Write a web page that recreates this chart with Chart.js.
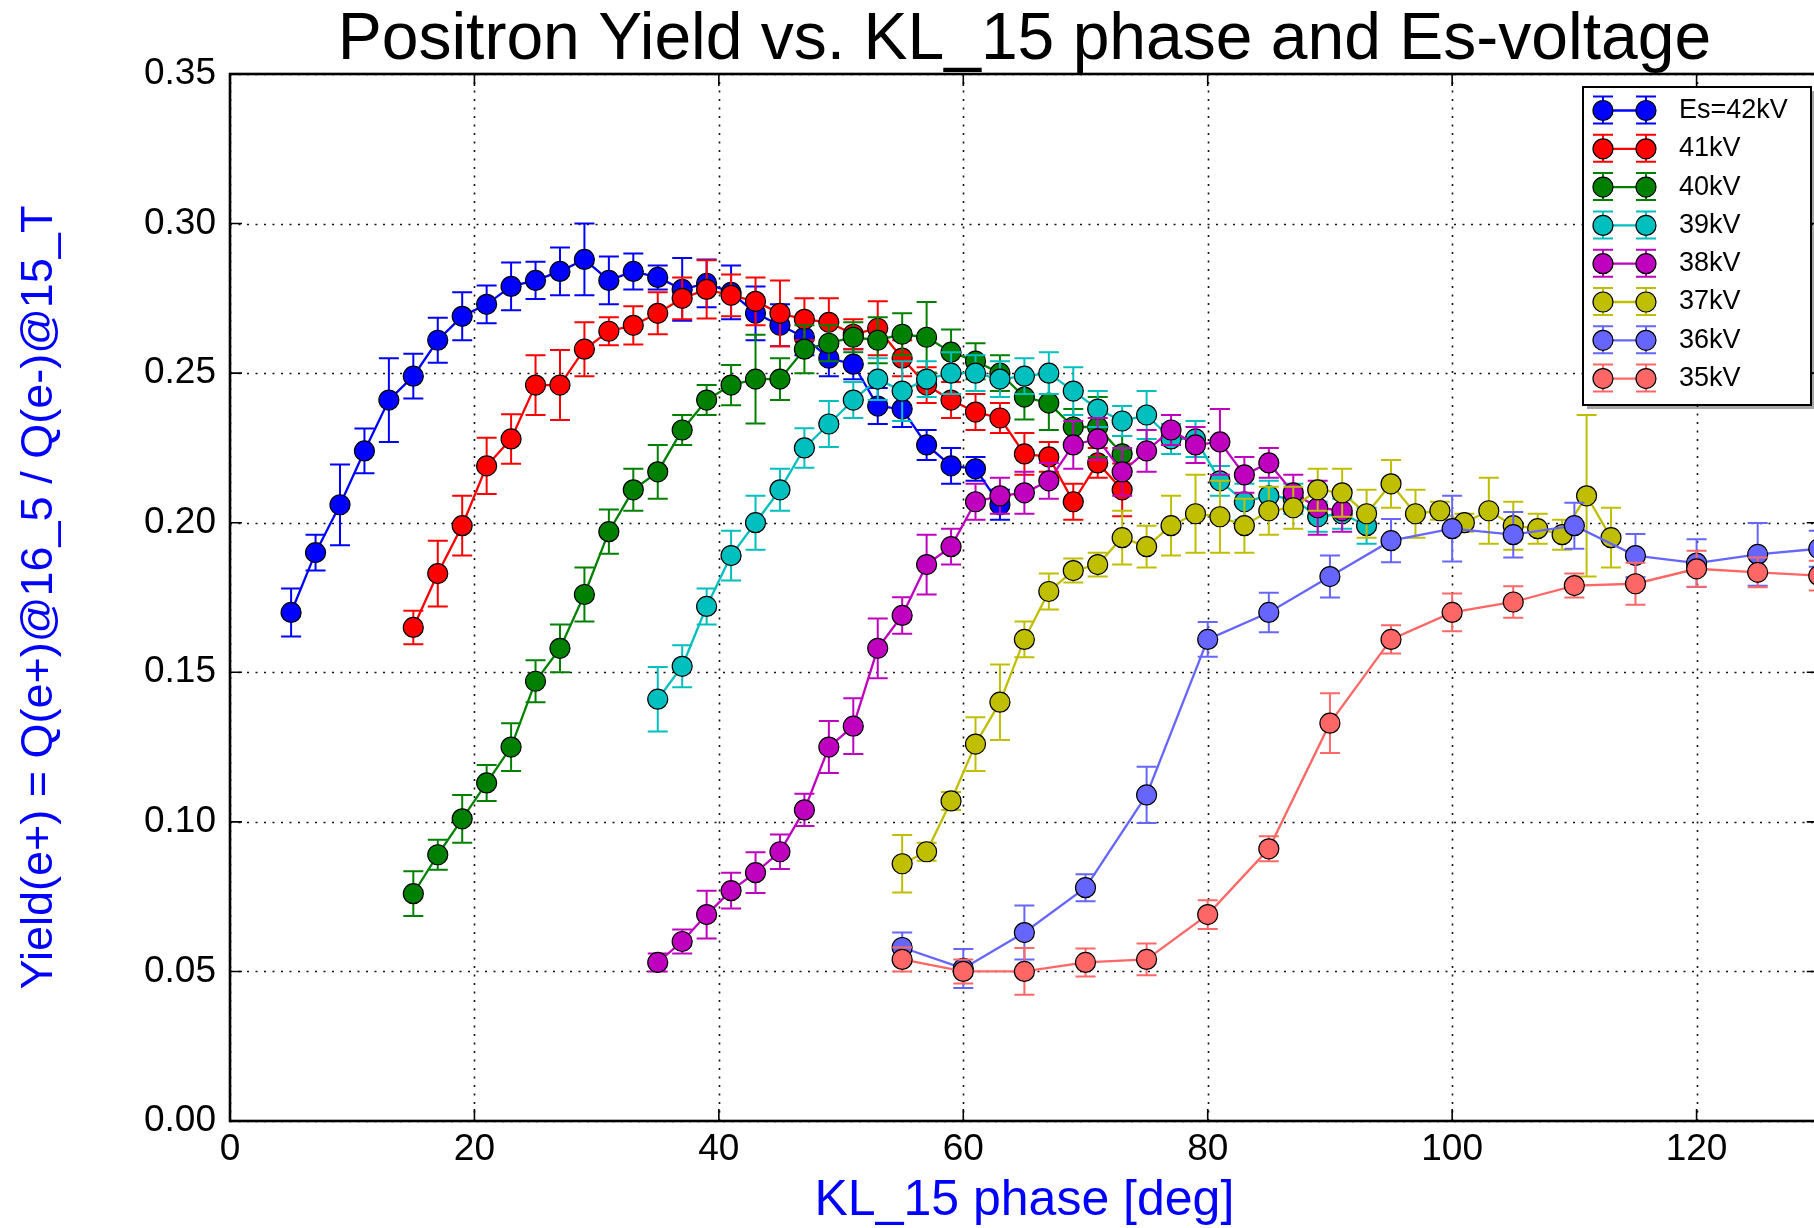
<!DOCTYPE html>
<html>
<head>
<meta charset="utf-8">
<script src="https://cdn.jsdelivr.net/npm/chart.js@4.4.1/dist/chart.umd.min.js"></script>
<style>
  html, body { margin: 0; padding: 0; background: #fff; overflow: hidden; }
  #wrap { width: 1830px; height: 1228px; }
</style>
</head>
<body>
<div id="wrap"><canvas id="chart" width="1830" height="1228"></canvas></div>
<script>
// KL_15 phase [deg] for each Es-voltage scan
var phase42 = [5,7,9,11,13,15,17,19,21,23,25,27,29,31,33,35,37,39,41,43,45,47,49,51,53,55,57,59,61,63];
var phase41 = [15,17,19,21,23,25,27,29,31,33,35,37,39,41,43,45,47,49,51,53,55,57,59,61,63,65,67,69,71,73];
var phase40 = [15,17,19,21,23,25,27,29,31,33,35,37,39,41,43,45,47,49,51,53,55,57,59,61,63,65,67,69,71,73];
var phase39 = [35,37,39,41,43,45,47,49,51,53,55,57,59,61,63,65,67,69,71,73,75,77,79,81,83,85,87,89,91,93];
var phase38 = [35,37,39,41,43,45,47,49,51,53,55,57,59,61,63,65,67,69,71,73,75,77,79,81,83,85,87,89,91];
var phase37 = [55,57,59,61,63,65,67,69,71,73,75,77,79,81,83,85,87,89,91,93,95,97,99,101,103,105,107,109,111,113];
var phase36 = [55,60,65,70,75,80,85,90,95,100,105,110,115,120,125,130];
var phase35 = [55,60,65,70,75,80,85,90,95,100,105,110,115,120,125,130];

// yield values
var yield42 = [0.170,0.190,0.206,0.224,0.241,0.249,0.261,0.269,0.273,0.279,0.281,0.284,0.288,0.281,0.284,0.282,0.278,0.280,0.277,0.270,0.266,0.262,0.255,0.253,0.239,0.238,0.226,0.219,0.218,0.206];
var yield41 = [0.165,0.183,0.199,0.219,0.228,0.246,0.246,0.258,0.264,0.266,0.270,0.275,0.278,0.276,0.274,0.270,0.268,0.267,0.263,0.265,0.255,0.246,0.241,0.237,0.235,0.223,0.222,0.207,0.220,0.211];
var yield40 = [0.076,0.089,0.101,0.113,0.125,0.147,0.158,0.176,0.197,0.211,0.217,0.231,0.241,0.246,0.248,0.248,0.258,0.260,0.262,0.261,0.263,0.262,0.257,0.254,0.250,0.242,0.240,0.232,0.232,0.223];
var yield39 = [0.141,0.152,0.172,0.189,0.200,0.211,0.225,0.233,0.241,0.248,0.244,0.248,0.250,0.250,0.248,0.249,0.250,0.244,0.238,0.234,0.236,0.228,0.228,0.214,0.207,0.209,0.208,0.202,0.203,0.199];
var yield38 = [0.053,0.060,0.069,0.077,0.083,0.090,0.104,0.125,0.132,0.158,0.169,0.186,0.192,0.207,0.209,0.210,0.214,0.226,0.228,0.217,0.224,0.231,0.226,0.227,0.216,0.220,0.210,0.205,0.204];
var yield37 = [0.086,0.090,0.107,0.126,0.140,0.161,0.177,0.184,0.186,0.195,0.192,0.199,0.203,0.202,0.199,0.204,0.205,0.211,0.210,0.203,0.213,0.203,0.204,0.200,0.204,0.199,0.198,0.196,0.209,0.195];
var yield36 = [0.058,0.051,0.063,0.078,0.109,0.161,0.170,0.182,0.194,0.198,0.196,0.199,0.189,0.1865,0.1894,0.1913];
var yield35 = [0.054,0.050,0.050,0.053,0.054,0.069,0.091,0.133,0.161,0.170,0.1735,0.179,0.1796,0.1846,0.1834,0.1823];

// half-length of the error bars
var err42 = [0.008,0.006,0.0135,0.0075,0.014,0.0075,0.0075,0.008,0.0063,0.008,0.0062,0.008,0.012,0.008,0.006,0.004,0.0105,0.008,0.009,0.009,0.007,0.006,0.006,0.005,0.006,0.006,0.005,0.006,0.004,0.005];
var err41 = [0.0056,0.011,0.010,0.0094,0.0083,0.010,0.0117,0.009,0.0047,0.0064,0.007,0.007,0.0097,0.007,0.008,0.011,0.007,0.008,0.005,0.009,0.006,0.006,0.006,0.006,0.005,0.007,0.005,0.006,0.005,0.0088];
var err40 = [0.0075,0.005,0.008,0.006,0.008,0.007,0.008,0.009,0.0074,0.007,0.009,0.005,0.005,0.0067,0.0148,0.007,0.008,0.006,0.005,0.0077,0.007,0.0118,0.0076,0.006,0.006,0.0075,0.009,0.006,0.01,0.006];
var err39 = [0.0108,0.007,0.006,0.0083,0.009,0.007,0.0066,0.0077,0.006,0.007,0.01,0.006,0.007,0.006,0.006,0.006,0.007,0.008,0.006,0.005,0.008,0.005,0.006,0.005,0.006,0.005,0.005,0.005,0.005,0.006];
var err38 = [0.003,0.004,0.008,0.006,0.0068,0.0058,0.0054,0.0087,0.0093,0.01,0.0061,0.01,0.006,0.006,0.006,0.007,0.006,0.008,0.007,0.008,0.007,0.005,0.006,0.011,0.006,0.005,0.006,0.009,0.007];
var err37 = [0.0096,0.003,0.003,0.009,0.0126,0.006,0.006,0.004,0.004,0.009,0.007,0.010,0.013,0.012,0.009,0.008,0.007,0.007,0.008,0.008,0.008,0.008,0.003,0.003,0.011,0.008,0.005,0.005,0.027,0.010];
var err36 = [0.005,0.0065,0.009,0.0045,0.0094,0.0058,0.0066,0.007,0.0072,0.011,0.0076,0.0077,0.0072,0.008,0.0105,0.006];
var err35 = [0.004,0.004,0.0078,0.0047,0.0053,0.0048,0.0042,0.010,0.0047,0.0063,0.0053,0.004,0.007,0.006,0.005,0.005];

var labels = ["Es=42kV", "41kV", "40kV", "39kV", "38kV", "37kV", "36kV", "35kV"];
var colors = ["#0000ff", "#ff0000", "#008000", "#00bfbf", "#bf00bf", "#bfbf00", "#6666ff", "#ff6666"];
var xTicks = [0, 20, 40, 60, 80, 100, 120];

var phases = [phase42, phase41, phase40, phase39, phase38, phase37, phase36, phase35];
var yields = [yield42, yield41, yield40, yield39, yield38, yield37, yield36, yield35];
var errs = [err42, err41, err40, err39, err38, err37, err36, err35];

var FONT = "'Liberation Sans', Arial, Helvetica, sans-serif";
var MARKER_R = 10;

function makeSeries(i) {
  return {
    label: labels[i],
    data: phases[i].map(function (x, k) { return { x: x, y: yields[i][k] }; }),
    borderColor: colors[i],
    backgroundColor: colors[i],
    pointBackgroundColor: colors[i],
    pointBorderColor: "#000",
    pointBorderWidth: 1.2,
    pointRadius: MARKER_R,
    borderWidth: 2.3,
    tension: 0,
    order: labels.length - i  // later series on top, like matplotlib
  };
}

// error bars, drawn right before their own series so the markers cover them
var errorBars = {
  id: "errorBars",
  beforeDatasetDraw: function (chart, args) {
    var ds = chart.data.datasets[args.index];
    var err = errs[args.index];
    var sx = chart.scales.x, sy = chart.scales.y, ctx = chart.ctx, a = chart.chartArea;
    ctx.save();
    ctx.beginPath();
    ctx.rect(a.left, a.top, a.right - a.left, a.bottom - a.top);
    ctx.clip();
    ctx.strokeStyle = ds.borderColor;
    ctx.lineWidth = 2;
    ds.data.forEach(function (p, k) {
      var px = sx.getPixelForValue(p.x);
      var top = sy.getPixelForValue(p.y + err[k]);
      var bot = sy.getPixelForValue(p.y - err[k]);
      ctx.beginPath();
      ctx.moveTo(px, top); ctx.lineTo(px, bot);
      ctx.moveTo(px - 10, top); ctx.lineTo(px + 10, top);
      ctx.moveTo(px - 10, bot); ctx.lineTo(px + 10, bot);
      ctx.stroke();
    });
    ctx.restore();
  }
};

// dotted grid, spines with inward ticks, title and legend box
var frame = {
  id: "frame",
  beforeDatasetsDraw: function (chart) {
    var ctx = chart.ctx, a = chart.chartArea, sx = chart.scales.x, sy = chart.scales.y;
    ctx.save();
    ctx.strokeStyle = "#111";
    ctx.lineWidth = 1.6;
    ctx.setLineDash([2, 6.5]);
    sx.ticks.forEach(function (t) {
      var px = Math.round(sx.getPixelForValue(t.value)) + 0.5;
      ctx.beginPath(); ctx.moveTo(px, a.bottom); ctx.lineTo(px, a.top); ctx.stroke();
    });
    sy.ticks.forEach(function (t) {
      var py = Math.round(sy.getPixelForValue(t.value)) + 0.5;
      ctx.beginPath(); ctx.moveTo(a.left, py); ctx.lineTo(a.right, py); ctx.stroke();
    });
    ctx.restore();
  },
  afterDraw: function (chart) {
    var ctx = chart.ctx, a = chart.chartArea, sx = chart.scales.x, sy = chart.scales.y;
    ctx.save();

    // inward ticks
    ctx.strokeStyle = "#000";
    ctx.lineWidth = 1.6;
    sx.ticks.forEach(function (t) {
      var px = sx.getPixelForValue(t.value);
      ctx.beginPath();
      ctx.moveTo(px, a.bottom); ctx.lineTo(px, a.bottom - 12);
      ctx.moveTo(px, a.top); ctx.lineTo(px, a.top + 12);
      ctx.stroke();
    });
    sy.ticks.forEach(function (t) {
      var py = sy.getPixelForValue(t.value);
      ctx.beginPath();
      ctx.moveTo(a.left, py); ctx.lineTo(a.left + 12, py);
      ctx.moveTo(a.right, py); ctx.lineTo(a.right - 12, py);
      ctx.stroke();
    });

    // spines
    ctx.lineWidth = 2.6;
    ctx.strokeRect(a.left, a.top, a.right - a.left, a.bottom - a.top);

    // title
    ctx.fillStyle = "#000";
    ctx.font = "66px " + FONT;
    ctx.textAlign = "center";
    ctx.textBaseline = "alphabetic";
    ctx.fillText("Positron Yield vs. KL_15 phase and Es-voltage", (a.left + a.right) / 2, 59);

    // legend
    var bx = 1583, by = 87, bw = 228, bh = 318;
    ctx.fillStyle = "rgba(0,0,0,0.35)";
    ctx.fillRect(bx + 4, by + 4, bw, bh);
    ctx.fillStyle = "#fff";
    ctx.fillRect(bx, by, bw, bh);
    ctx.strokeStyle = "#000";
    ctx.lineWidth = 2;
    ctx.strokeRect(bx, by, bw, bh);

    ctx.font = "27px " + FONT;
    ctx.textAlign = "left";
    ctx.textBaseline = "middle";
    labels.forEach(function (lab, i) {
      var cy = 110.5 + i * 38.3;
      var m1 = 1603, m2 = 1646;
      ctx.strokeStyle = colors[i];
      ctx.lineWidth = 2.3;
      ctx.beginPath(); ctx.moveTo(m1, cy); ctx.lineTo(m2, cy); ctx.stroke();
      ctx.lineWidth = 2;
      [m1, m2].forEach(function (mx) {
        ctx.beginPath();
        ctx.moveTo(mx, cy - 14); ctx.lineTo(mx, cy + 13);
        ctx.moveTo(mx - 10, cy - 14); ctx.lineTo(mx + 10, cy - 14);
        ctx.moveTo(mx - 10, cy + 13); ctx.lineTo(mx + 10, cy + 13);
        ctx.stroke();
      });
      [m1, m2].forEach(function (mx) {
        ctx.beginPath();
        ctx.arc(mx, cy, MARKER_R, 0, Math.PI * 2);
        ctx.fillStyle = colors[i];
        ctx.fill();
        ctx.lineWidth = 1.2;
        ctx.strokeStyle = "#000";
        ctx.stroke();
      });
      ctx.fillStyle = "#000";
      ctx.fillText(lab, 1679, cy);
    });

    ctx.restore();
  }
};

var ctx = document.getElementById("chart").getContext("2d");
var chart = new Chart(ctx, {
  type: "line",
  data: { datasets: labels.map(function (l, i) { return makeSeries(i); }) },
  plugins: [errorBars, frame],
  options: {
    responsive: false,
    devicePixelRatio: 1,
    animation: false,
    events: [],
    layout: { padding: { top: 74, right: 6, left: 0, bottom: 0 } },
    plugins: {
      legend: { display: false },
      title: { display: false },
      tooltip: { enabled: false }
    },
    scales: {
      x: {
        type: "linear",
        min: 0,
        max: 130,
        afterBuildTicks: function (scale) {
          scale.ticks = xTicks.map(function (v) { return { value: v }; });
        },
        afterFit: function (scale) { scale.height = 107; },
        grid: { display: false, drawTicks: false },
        border: { display: false },
        ticks: {
          color: "#000",
          padding: 7,
          maxRotation: 0,
          font: { family: FONT, size: 37 },
          callback: function (v) { return String(v); }
        },
        title: {
          display: true,
          text: "KL_15 phase [deg]",
          color: "#0000ff",
          font: { family: FONT, size: 50, lineHeight: 1 },
          padding: { top: 0, bottom: 2 }
        }
      },
      y: {
        type: "linear",
        min: 0,
        max: 0.35,
        afterFit: function (scale) { scale.width = 230; },
        grid: { display: false, drawTicks: false },
        border: { display: false },
        ticks: {
          stepSize: 0.05,
          color: "#000",
          padding: 14,
          font: { family: FONT, size: 37 },
          callback: function (v) { return v.toFixed(2); }
        },
        title: {
          display: true,
          text: "Yield(e+) = Q(e+)@16_5 / Q(e-)@15_T",
          color: "#0000ff",
          font: { family: FONT, size: 45, lineHeight: 1 },
          padding: { top: 17, bottom: 0 }
        }
      }
    }
  }
});
</script>
</body>
</html>
